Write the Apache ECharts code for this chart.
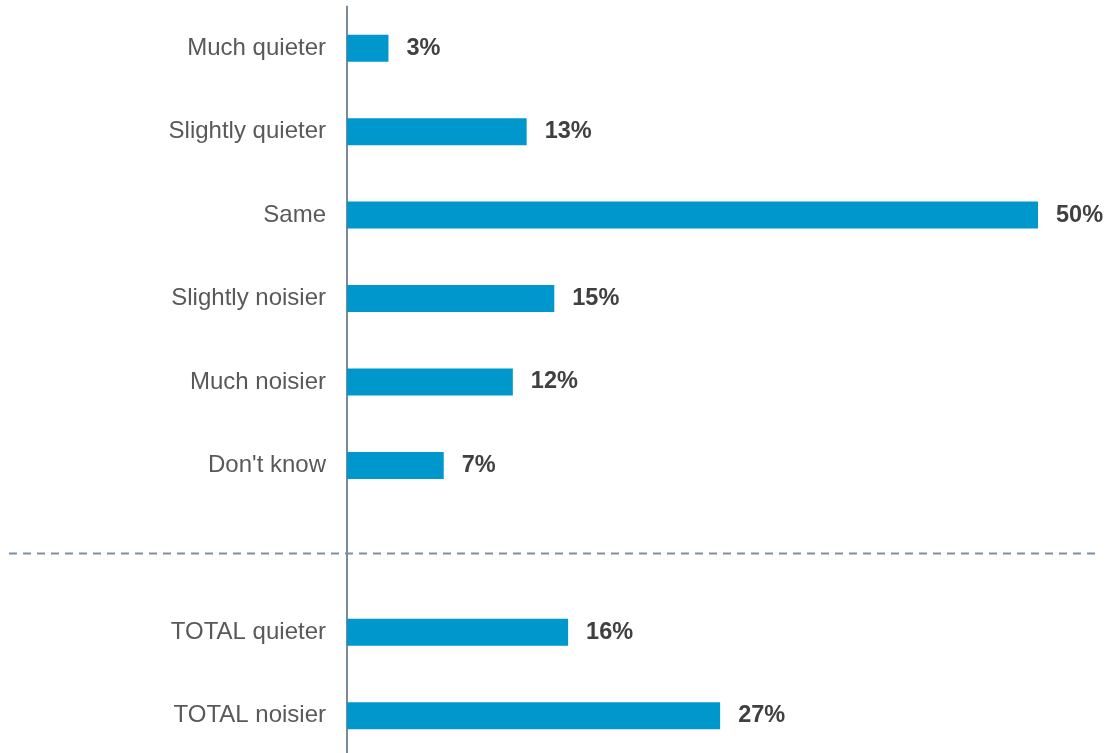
<!DOCTYPE html>
<html>
<head>
<meta charset="utf-8">
<script src="https://cdn.jsdelivr.net/npm/echarts@6/dist/echarts.min.js"></script>
<style>
  html, body { margin: 0; padding: 0; background: #ffffff; }
  #chart { width: 1108px; height: 753px; }
</style>
</head>
<body>
<div id="chart"></div>
<script>
// Response categories, top to bottom; the blank entry is the gap before the totals
const categories = ['Much quieter', 'Slightly quieter', 'Same', 'Slightly noisier', 'Much noisier', "Don't know", '', 'TOTAL quieter', 'TOTAL noisier'];
// Share of respondents (%) for each category; null for the gap row
const shares = [3, 13, 50, 15, 12, 7, null, 16, 27];

const FONT = '"Liberation Sans", Arial, Helvetica, sans-serif';
const chart = echarts.init(document.getElementById('chart'), null, { renderer: 'canvas' });

chart.setOption({
  animation: false,
  backgroundColor: '#ffffff',
  grid: { left: 347, width: 691, top: 6.5, height: 751, containLabel: false, outerBoundsMode: 'none' },
  xAxis: {
    type: 'value',
    min: 0,
    max: 50,
    show: false
  },
  yAxis: {
    type: 'category',
    inverse: true,
    data: categories,
    axisLine: { show: true, lineStyle: { color: '#7a8a9b', width: 2 } },
    axisTick: { show: false },
    splitLine: { show: false },
    axisLabel: {
      margin: 21,
      color: '#595959',
      fontSize: 24,
      fontFamily: FONT
    }
  },
  series: [{
    type: 'bar',
    data: shares,
    barWidth: 27,
    itemStyle: { color: '#0098cc' },
    label: {
      show: true,
      position: 'right',
      distance: 18,
      formatter: p => (p.value == null ? '' : p.value + '%'),
      color: '#404040',
      fontWeight: 'bold',
      fontSize: 23.5,
      fontFamily: FONT
    }
  }]
});

// Dashed separator across the gap row between the answers and the totals
const gapY = chart.convertToPixel({ yAxisIndex: 0 }, '') + 4.5;
chart.setOption({
  graphic: [{
    type: 'line',
    shape: { x1: 9, y1: gapY, x2: 1096, y2: gapY },
    style: { stroke: '#7f8fa0', lineWidth: 2, lineDash: [8, 6] },
    z: 10
  }]
});
</script>
</body>
</html>
